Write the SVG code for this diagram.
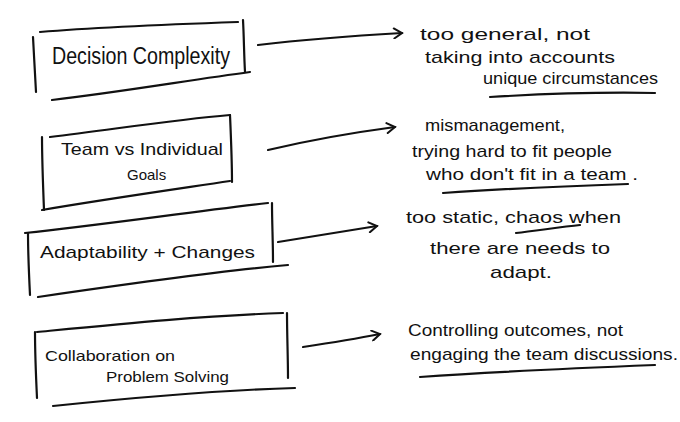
<svg xmlns="http://www.w3.org/2000/svg" width="680" height="422" viewBox="0 0 680 422">
<style>
.ink{fill:none;stroke:#111;stroke-width:2.2;stroke-linecap:round;stroke-linejoin:round}
.t{font-family:"Liberation Sans","DejaVu Sans",sans-serif;fill:#111}
.b{font-size:23px}
.r{font-size:17px}
</style>
<defs>
<marker id="ah" viewBox="0 0 12 12" refX="10" refY="6" markerWidth="12" markerHeight="12" markerUnits="userSpaceOnUse" orient="auto">
<path d="M2,1 L10,6 L2,11" fill="none" stroke="#111" stroke-width="2" stroke-linecap="round"/>
</marker>
</defs>
<rect width="680" height="422" fill="#fff"/>

<g id="node-decision">
<path class="ink" d="M40,32 C100,27 180,24 238,22"/>
<path class="ink" d="M33,37 C34,55 35,75 36,92"/>
<path class="ink" d="M243,20 C244,38 244,55 245,72"/>
<path class="ink" d="M52,100 C120,92 190,80 250,72"/>
<text class="t b" x="52" y="64" textLength="178" lengthAdjust="spacingAndGlyphs">Decision Complexity</text>
</g>

<g id="node-team">
<path class="ink" d="M50,137 C110,130 170,120 230,115"/>
<path class="ink" d="M42,137 C42,160 43,185 44,210"/>
<path class="ink" d="M230,115 C231,138 232,160 232,182"/>
<path class="ink" d="M42,210 C100,200 170,190 230,181"/>
<text class="t r" x="61" y="155" textLength="162" lengthAdjust="spacingAndGlyphs">Team vs Individual</text>
<text class="t" x="127" y="180" font-size="15">Goals</text>
</g>

<g id="node-adapt">
<path class="ink" d="M25,233 C100,225 190,212 268,203"/>
<path class="ink" d="M28,233 C28,255 29,275 30,295"/>
<path class="ink" d="M272,203 C272,222 273,242 273,262"/>
<path class="ink" d="M38,297 C120,285 210,272 288,265"/>
<text class="t r" x="40" y="258" textLength="215" lengthAdjust="spacingAndGlyphs">Adaptability  +  Changes</text>
</g>

<g id="node-collab">
<path class="ink" d="M37,332 C120,324 200,316 283,313"/>
<path class="ink" d="M35,332 C35,355 36,377 37,398"/>
<path class="ink" d="M287,313 C287,335 288,357 288,378"/>
<path class="ink" d="M53,406 C130,398 220,390 295,388"/>
<text class="t" x="45" y="361" font-size="15" textLength="130" lengthAdjust="spacingAndGlyphs">Collaboration on</text>
<text class="t" x="106" y="382" font-size="15" textLength="123" lengthAdjust="spacingAndGlyphs">Problem  Solving</text>
</g>

<g id="connectors">
<path class="ink" d="M258,45 C300,40 350,36 402,33" marker-end="url(#ah)"/>
<path class="ink" d="M268,150 C310,140 350,133 395,127" marker-end="url(#ah)"/>
<path class="ink" d="M278,242 C310,237 345,231 377,226" marker-end="url(#ah)"/>
<path class="ink" d="M303,347 C330,343 355,339 380,334" marker-end="url(#ah)"/>
</g>

<g id="note-1">
<text class="t r" x="420" y="40" textLength="170" lengthAdjust="spacingAndGlyphs">too general, not</text>
<text class="t r" x="425" y="63" textLength="190" lengthAdjust="spacingAndGlyphs">taking into accounts</text>
<text class="t r" x="483" y="84" textLength="175" lengthAdjust="spacingAndGlyphs">unique circumstances</text>
<path class="ink" d="M490,97 C540,94 600,92 655,93"/>
</g>

<g id="note-2">
<text class="t r" x="425" y="131" textLength="140" lengthAdjust="spacingAndGlyphs">mismanagement,</text>
<text class="t r" x="412" y="157" textLength="200" lengthAdjust="spacingAndGlyphs">trying hard to fit people</text>
<text class="t r" x="426" y="180" textLength="212" lengthAdjust="spacingAndGlyphs">who don't fit in a team  .</text>
<path class="ink" d="M443,193 C500,189 570,186 628,184"/>
</g>

<g id="note-3">
<text class="t r" x="406" y="223" textLength="215" lengthAdjust="spacingAndGlyphs">too static,  chaos when</text>
<path class="ink" d="M516,233 C535,231 560,227 580,225"/>
<text class="t r" x="430" y="254" textLength="180" lengthAdjust="spacingAndGlyphs">there are needs  to</text>
<text class="t r" x="490" y="278" textLength="62" lengthAdjust="spacingAndGlyphs">adapt.</text>
</g>

<g id="note-4">
<text class="t r" x="408" y="336" textLength="215" lengthAdjust="spacingAndGlyphs">Controlling outcomes, not</text>
<text class="t r" x="410" y="360" textLength="268" lengthAdjust="spacingAndGlyphs">engaging the team discussions.</text>
<path class="ink" d="M420,377 C490,372 580,368 655,365"/>
</g>
</svg>
